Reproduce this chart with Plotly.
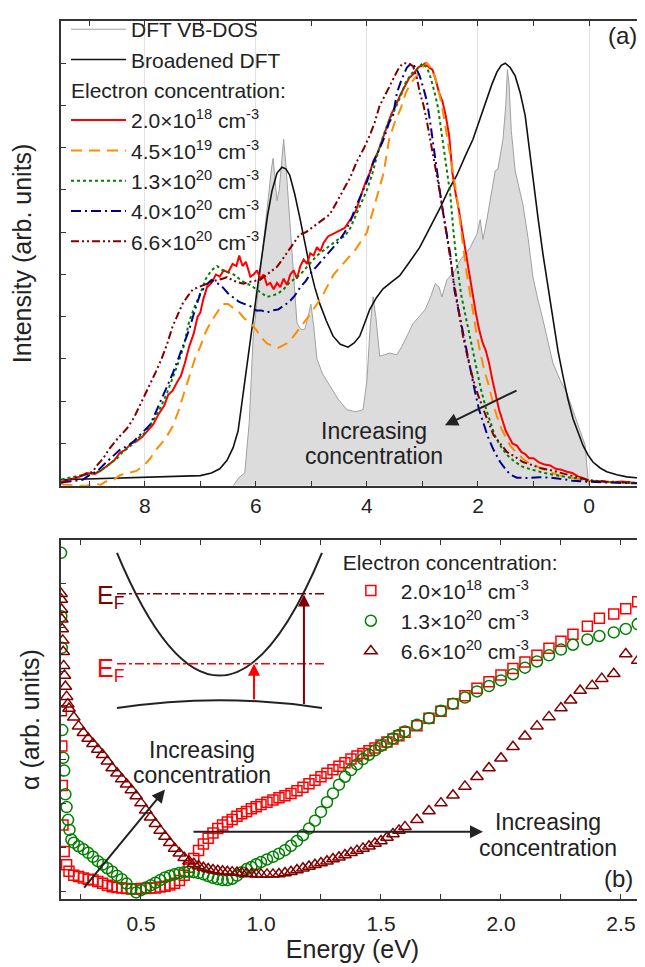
import plotly.graph_objects as go

FONT = "Liberation Sans, Arial, Helvetica, sans-serif"
TXT = "#222222"

# ================= panel (a): photoemission =================
dos_E = [6.41, 6.30, 6.20, 6.12, 6.05, 5.95, 5.87, 5.78, 5.72, 5.69, 5.65, 5.62, 5.58, 5.53, 5.50, 5.46,
         5.39, 5.32, 5.26, 5.19, 5.12, 5.06, 5.01, 4.96, 4.90, 4.80, 4.67, 4.52, 4.36, 4.20, 4.07, 4.00,
         3.94, 3.89, 3.84, 3.77, 3.68, 3.59, 3.46, 3.37, 3.28, 3.17, 3.06, 2.95, 2.86, 2.77, 2.70, 2.65,
         2.56, 2.48, 2.41, 2.32, 2.23, 2.14, 2.08, 2.02, 1.96, 1.91, 1.84, 1.78, 1.69, 1.64, 1.55, 1.50,
         1.47, 1.44, 1.40, 1.33, 1.19, 1.10, 1.01, 0.92, 0.83, 0.65, 0.52, 0.40, 0.22, 0.07, 0.02, 0.00]
dos_I = [0.0, 0.02, 0.03, 0.15, 0.35, 0.47, 0.58, 0.68, 0.75, 0.775, 0.72, 0.675, 0.70, 0.79, 0.82, 0.76,
         0.635, 0.49, 0.385, 0.37, 0.37, 0.40, 0.43, 0.38, 0.30, 0.265, 0.236, 0.205, 0.18, 0.175, 0.18, 0.25,
         0.38, 0.447, 0.40, 0.307, 0.31, 0.314, 0.31, 0.33, 0.354, 0.384, 0.40, 0.417, 0.445, 0.478, 0.47, 0.447,
         0.487, 0.50, 0.51, 0.534, 0.55, 0.564, 0.58, 0.595, 0.63, 0.583, 0.63, 0.674, 0.745, 0.75, 0.82, 0.90,
         0.985, 0.95, 0.84, 0.745, 0.665, 0.588, 0.494, 0.44, 0.393, 0.29, 0.25, 0.22, 0.15, 0.096, 0.02, 0.0]

brd_E = [9.51, 9.0, 8.5, 8.0, 7.5, 7.0, 6.8, 6.65, 6.52, 6.41, 6.32, 6.23, 6.14, 6.05, 5.96, 5.87, 5.79,
         5.71, 5.62, 5.53, 5.46, 5.39, 5.30, 5.21, 5.12, 5.03, 4.94, 4.85, 4.73, 4.61, 4.48, 4.34, 4.23,
         4.13, 4.04, 3.95, 3.83, 3.71, 3.56, 3.41, 3.23, 3.05, 2.87, 2.68, 2.53, 2.38, 2.23, 2.09, 1.96,
         1.84, 1.75, 1.66, 1.58, 1.51, 1.42, 1.33, 1.24, 1.15, 1.08, 1.01, 0.92, 0.83, 0.74, 0.65, 0.56,
         0.47, 0.38, 0.29, 0.20, 0.11, 0.02, -0.07, -0.20, -0.32, -0.50, -0.68, -0.85, -0.99]
brd_I = [0.014, 0.016, 0.018, 0.019, 0.021, 0.024, 0.03, 0.04, 0.06, 0.09, 0.13, 0.22, 0.30, 0.393, 0.48,
         0.564, 0.64, 0.698, 0.74, 0.754, 0.75, 0.735, 0.69, 0.635, 0.575, 0.518, 0.47, 0.431, 0.39, 0.354,
         0.335, 0.328, 0.338, 0.354, 0.385, 0.417, 0.445, 0.466, 0.482, 0.497, 0.53, 0.564, 0.61, 0.658,
         0.70, 0.735, 0.78, 0.82, 0.87, 0.916, 0.95, 0.979, 0.995, 1.0, 0.99, 0.97, 0.93, 0.876, 0.80, 0.72,
         0.635, 0.548, 0.47, 0.393, 0.32, 0.26, 0.205, 0.159, 0.125, 0.096, 0.073, 0.056, 0.042, 0.033,
         0.026, 0.021, 0.019, 0.018]

red_E = [9.52, 9.35, 9.2, 9.05, 8.9, 8.8, 8.65, 8.55, 8.45, 8.35, 8.25, 8.15, 8.05, 7.95, 7.85, 7.75, 7.65,
         7.58, 7.5, 7.42, 7.35, 7.28, 7.2, 7.12, 7.05, 7.0, 6.95, 6.88, 6.8, 6.72, 6.65, 6.58, 6.5, 6.42,
         6.35, 6.3, 6.24, 6.18, 6.1, 6.04, 5.98, 5.92, 5.86, 5.8, 5.74, 5.68, 5.62, 5.56, 5.5, 5.44, 5.38,
         5.32, 5.26, 5.2, 5.14, 5.08, 5.02, 4.96, 4.9, 4.84, 4.78, 4.7, 4.62, 4.55, 4.48, 4.4, 4.3, 4.2,
         4.1, 4.02, 3.95, 3.88, 3.8, 3.72, 3.64, 3.56, 3.48, 3.4, 3.32, 3.24, 3.16, 3.08, 3.0, 2.95, 2.88,
         2.82, 2.76, 2.7, 2.64, 2.58, 2.52, 2.46, 2.4, 2.34, 2.28, 2.22, 2.16, 2.1, 2.04, 1.98, 1.92, 1.86,
         1.8, 1.74, 1.68, 1.62, 1.56, 1.5, 1.44, 1.38, 1.3, 1.22, 1.15, 1.08, 1.0, 0.9, 0.8, 0.7, 0.6, 0.5,
         0.4, 0.3, 0.2, 0.1, 0.0, -0.2, -0.4, -0.6, -0.8, -1.0]
red_I = [0.005, 0.015, 0.02, 0.03, 0.028, 0.035, 0.05, 0.06, 0.078, 0.085, 0.1, 0.105, 0.115, 0.13, 0.145,
         0.17, 0.19, 0.215, 0.225, 0.245, 0.26, 0.29, 0.33, 0.36, 0.40, 0.41, 0.44, 0.47, 0.48, 0.50, 0.495,
         0.51, 0.505, 0.525, 0.52, 0.545, 0.52, 0.53, 0.495, 0.50, 0.51, 0.49, 0.50, 0.475, 0.48, 0.465,
         0.48, 0.47, 0.49, 0.475, 0.50, 0.51, 0.49, 0.52, 0.535, 0.525, 0.55, 0.545, 0.565, 0.555, 0.575,
         0.59, 0.595, 0.60, 0.605, 0.61, 0.63, 0.65, 0.69, 0.72, 0.74, 0.77, 0.79, 0.82, 0.855, 0.88, 0.90,
         0.925, 0.945, 0.965, 0.975, 0.99, 0.995, 1.0, 0.99, 0.985, 0.96, 0.93, 0.91, 0.875, 0.83, 0.74,
         0.69, 0.65, 0.60, 0.55, 0.50, 0.46, 0.41, 0.37, 0.34, 0.32, 0.29, 0.25, 0.215, 0.18, 0.155, 0.13,
         0.115, 0.10, 0.095, 0.08, 0.075, 0.065, 0.065, 0.055, 0.05, 0.048, 0.04, 0.038, 0.033, 0.03, 0.022,
         0.018, 0.012, 0.01, 0.008, 0.01, 0.007, 0.006]

org_E = [9.5, 9.3, 9.2, 9.05, 8.9, 8.8, 8.7, 8.55, 8.45, 8.3, 8.15, 8.0, 7.9, 7.8, 7.7, 7.6, 7.5, 7.4, 7.3,
         7.2, 7.1, 7.0, 6.9, 6.8, 6.7, 6.6, 6.5, 6.4, 6.3, 6.2, 6.1, 6.0, 5.9, 5.8, 5.7, 5.6, 5.4, 5.2,
         5.0, 4.8, 4.6, 4.4, 4.2, 4.0, 3.8, 3.7, 3.6, 3.5, 3.4, 3.3, 3.2, 3.1, 3.0, 2.92, 2.85, 2.78, 2.72,
         2.65, 2.58, 2.5, 2.44, 2.38, 2.3, 2.2, 2.1, 2.02, 1.95, 1.88, 1.8, 1.72, 1.66, 1.58, 1.5, 1.42,
         1.32, 1.2, 1.1, 1.0, 0.85, 0.7, 0.55, 0.4, 0.25, 0.1, -0.1, -0.3, -0.5, -0.7, -1.0]
org_I = [0.003, 0.0, 0.0, 0.0, 0.005, 0.002, 0.01, 0.015, 0.025, 0.03, 0.035, 0.05, 0.065, 0.085, 0.10,
         0.118, 0.14, 0.175, 0.215, 0.26, 0.30, 0.33, 0.365, 0.39, 0.41, 0.43, 0.43, 0.42, 0.41, 0.395,
         0.385, 0.37, 0.35, 0.337, 0.33, 0.326, 0.34, 0.375, 0.41, 0.45, 0.50, 0.53, 0.56, 0.60, 0.69,
         0.74, 0.82, 0.86, 0.89, 0.93, 0.955, 0.97, 0.99, 1.0, 0.99, 0.97, 0.94, 0.90, 0.845, 0.78, 0.73,
         0.685, 0.60, 0.50, 0.42, 0.355, 0.31, 0.27, 0.235, 0.19, 0.165, 0.135, 0.115, 0.095, 0.08, 0.065,
         0.055, 0.05, 0.04, 0.032, 0.025, 0.02, 0.018, 0.012, 0.01, 0.008, 0.009, 0.007, 0.006]

grn_E = [9.5, 9.3, 9.1, 8.95, 8.8, 8.65, 8.5, 8.4, 8.3, 8.2, 8.1, 8.0, 7.9, 7.8, 7.7, 7.6, 7.5, 7.4, 7.3,
         7.2, 7.1, 7.0, 6.9, 6.8, 6.7, 6.6, 6.5, 6.4, 6.3, 6.2, 6.1, 6.0, 5.9, 5.8, 5.7, 5.6, 5.5, 5.4,
         5.3, 5.2, 5.1, 5.0, 4.9, 4.8, 4.7, 4.6, 4.5, 4.4, 4.3, 4.2, 4.1, 4.0, 3.9, 3.8, 3.7, 3.6, 3.5,
         3.4, 3.3, 3.2, 3.1, 3.0, 2.92, 2.85, 2.78, 2.72, 2.65, 2.58, 2.5, 2.44, 2.38, 2.3, 2.2, 2.1, 2.02,
         1.95, 1.85, 1.78, 1.7, 1.6, 1.48, 1.35, 1.2, 1.0, 0.8, 0.6, 0.4, 0.2, 0.0, -0.3, -0.6, -1.0]
grn_I = [0.015, 0.02, 0.025, 0.03, 0.035, 0.05, 0.065, 0.08, 0.09, 0.10, 0.115, 0.125, 0.145, 0.165, 0.19,
         0.22, 0.255, 0.29, 0.33, 0.39, 0.425, 0.455, 0.49, 0.51, 0.52, 0.51, 0.505, 0.50, 0.49, 0.48,
         0.475, 0.465, 0.455, 0.447, 0.45, 0.455, 0.465, 0.48, 0.49, 0.50, 0.515, 0.53, 0.545, 0.555,
         0.565, 0.575, 0.585, 0.59, 0.61, 0.64, 0.67, 0.70, 0.74, 0.79, 0.83, 0.865, 0.89, 0.92, 0.955,
         0.975, 0.985, 1.0, 0.99, 0.965, 0.93, 0.895, 0.83, 0.76, 0.69, 0.60, 0.525, 0.45, 0.385, 0.32,
         0.27, 0.23, 0.18, 0.15, 0.12, 0.095, 0.073, 0.058, 0.045, 0.037, 0.03, 0.025, 0.021, 0.016, 0.012,
         0.009, 0.008, 0.006]

blu_E = [9.5, 9.3, 9.12, 9.0, 8.85, 8.7, 8.6, 8.45, 8.3, 8.2, 8.05, 7.9, 7.8, 7.7, 7.6, 7.5, 7.4, 7.3,
         7.2, 7.1, 7.0, 6.9, 6.8, 6.7, 6.6, 6.5, 6.4, 6.3, 6.2, 6.1, 6.0, 5.9, 5.8, 5.7, 5.6, 5.5, 5.4,
         5.3, 5.2, 5.1, 5.0, 4.9, 4.8, 4.7, 4.6, 4.5, 4.4, 4.3, 4.2, 4.1, 4.0, 3.9, 3.8, 3.7, 3.6, 3.53,
         3.46, 3.38, 3.28, 3.2, 3.12, 3.05, 2.98, 2.92, 2.86, 2.8, 2.74, 2.68, 2.62, 2.56, 2.5, 2.42, 2.32,
         2.22, 2.14, 2.05, 1.98, 1.91, 1.82, 1.72, 1.6, 1.48, 1.4, 1.3, 1.1, 0.9, 0.7, 0.5, 0.3, 0.1, -0.2,
         -0.5, -0.8, -1.0]
blu_I = [0.008, 0.012, 0.014, 0.025, 0.035, 0.055, 0.068, 0.085, 0.095, 0.105, 0.125, 0.145, 0.175, 0.205,
         0.235, 0.265, 0.30, 0.335, 0.37, 0.415, 0.455, 0.475, 0.487, 0.48, 0.47, 0.455, 0.445, 0.435,
         0.43, 0.425, 0.415, 0.415, 0.41, 0.415, 0.417, 0.425, 0.435, 0.45, 0.47, 0.485, 0.505, 0.52,
         0.535, 0.55, 0.565, 0.58, 0.60, 0.625, 0.66, 0.69, 0.72, 0.76, 0.79, 0.82, 0.86, 0.876, 0.93,
         0.96, 0.99, 1.0, 0.99, 0.97, 0.94, 0.91, 0.86, 0.80, 0.74, 0.69, 0.64, 0.59, 0.548, 0.46, 0.393,
         0.33, 0.276, 0.22, 0.18, 0.15, 0.115, 0.085, 0.056, 0.035, 0.025, 0.019, 0.018, 0.02, 0.019, 0.016,
         0.012, 0.01, 0.008, 0.007, 0.006, 0.005]

drd_E = [9.53, 9.4, 9.25, 9.1, 8.94, 8.85, 8.75, 8.63, 8.5, 8.4, 8.32, 8.2, 8.09, 8.0, 7.9, 7.8, 7.7,
         7.6, 7.5, 7.4, 7.32, 7.22, 7.14, 7.0, 6.88, 6.75, 6.6, 6.52, 6.4, 6.3, 6.23, 6.1, 6.0, 5.93, 5.8,
         5.7, 5.62, 5.5, 5.4, 5.3, 5.21, 5.1, 5.0, 4.9, 4.8, 4.67, 4.55, 4.43, 4.3, 4.18, 4.05, 3.95, 3.86,
         3.77, 3.68, 3.59, 3.5, 3.42, 3.35, 3.25, 3.17, 3.1, 3.05, 2.98, 2.92, 2.86, 2.81, 2.74, 2.68, 2.62,
         2.56, 2.5, 2.45, 2.36, 2.27, 2.18, 2.09, 2.0, 1.92, 1.84, 1.72, 1.6, 1.48, 1.35, 1.19, 1.05, 0.88,
         0.73, 0.58, 0.4, 0.16, 0.0, -0.3, -0.6, -1.0]
drd_I = [0.007, 0.012, 0.018, 0.025, 0.033, 0.05, 0.065, 0.089, 0.11, 0.125, 0.136, 0.16, 0.19, 0.215,
         0.24, 0.27, 0.30, 0.335, 0.377, 0.405, 0.431, 0.45, 0.464, 0.472, 0.478, 0.485, 0.49, 0.494,
         0.485, 0.48, 0.478, 0.483, 0.485, 0.487, 0.50, 0.51, 0.518, 0.54, 0.56, 0.58, 0.595, 0.60, 0.61,
         0.618, 0.63, 0.642, 0.67, 0.698, 0.73, 0.768, 0.80, 0.829, 0.86, 0.90, 0.925, 0.946, 0.97, 0.99,
         1.0, 1.0, 0.993, 0.965, 0.932, 0.90, 0.862, 0.82, 0.782, 0.735, 0.69, 0.64, 0.595, 0.54, 0.494,
         0.42, 0.354, 0.30, 0.253, 0.215, 0.185, 0.159, 0.12, 0.10, 0.08, 0.07, 0.056, 0.05, 0.042, 0.038,
         0.033, 0.026, 0.019, 0.013, 0.01, 0.008, 0.006]

# ================= panel (b): absorption =================
grid_B = [0.20, 0.22, 0.24, 0.26, 0.28, 0.30, 0.32, 0.34, 0.36, 0.38, 0.40, 0.42, 0.44, 0.46, 0.48, 0.50,
          0.52, 0.54, 0.56, 0.58, 0.60, 0.62, 0.64, 0.66, 0.68, 0.70, 0.72, 0.74, 0.76, 0.78, 0.80, 0.82,
          0.84, 0.86, 0.88, 0.90, 0.92, 0.94, 0.96, 0.98, 1.00]
grid_C = [1.025, 1.05, 1.075, 1.10, 1.125, 1.15, 1.175, 1.20, 1.225, 1.25, 1.275, 1.30, 1.325, 1.35,
          1.375, 1.40, 1.425, 1.45, 1.475, 1.50, 1.525, 1.55, 1.575, 1.60]

sq_E = ([0.168, 0.170, 0.172, 0.175, 0.180, 0.190] + grid_B + grid_C +
        [1.65, 1.70, 1.75, 1.80, 1.85, 1.90, 1.95, 2.00, 2.05, 2.10, 2.15, 2.20, 2.25, 2.30, 2.36, 2.41,
         2.47, 2.52, 2.57])
sq_A = ([4.1, 3.3, 2.4, 1.5, 0.9, 0.6] +
        [0.45, 0.36, 0.33, 0.30, 0.27, 0.25, 0.22, 0.18, 0.13, 0.10, 0.08, 0.07, 0.06, 0.05, 0.05, 0.06,
         0.06, 0.07, 0.07, 0.09, 0.11, 0.14, 0.18, 0.24, 0.36, 0.54, 0.74, 0.92, 1.07, 1.2, 1.32, 1.42,
         1.5, 1.57, 1.63, 1.7, 1.76, 1.81, 1.87, 1.92, 1.97] +
        [2.02, 2.07, 2.12, 2.17, 2.22, 2.28, 2.36, 2.44, 2.52, 2.6, 2.68, 2.76, 2.84, 2.92, 3.0, 3.07,
         3.13, 3.19, 3.25, 3.32, 3.39, 3.46, 3.53, 3.61] +
        [3.76, 3.93, 4.09, 4.26, 4.44, 4.61, 4.76, 4.91, 5.06, 5.21, 5.36, 5.52, 5.68, 5.84, 6.02, 6.2,
         6.3, 6.42, 6.58])

ci_E = ([0.167, 0.168, 0.170, 0.172, 0.176, 0.180, 0.185, 0.190, 0.196, 0.202, 0.210] + grid_B[1:] + grid_C +
        [1.65, 1.70, 1.75, 1.80, 1.85, 1.90, 1.95, 2.00, 2.05, 2.10, 2.15, 2.20, 2.25, 2.30, 2.36, 2.41,
         2.47, 2.52, 2.57])
ci_A = ([7.69, 6.25, 5.53, 3.66, 3.03, 2.74, 2.2, 1.91, 1.62, 1.39, 1.17] +
        [1.1, 1.02, 0.95, 0.87, 0.78, 0.68, 0.6, 0.52, 0.44, 0.35, 0.27, 0.17, 0.05, -0.03, 0.02, 0.08,
         0.13, 0.19, 0.25, 0.31, 0.35, 0.38, 0.41, 0.43, 0.44, 0.43, 0.41, 0.38, 0.34, 0.3, 0.27, 0.25,
         0.25, 0.28, 0.35, 0.43, 0.5, 0.55, 0.61, 0.66] +
        [0.72, 0.78, 0.85, 0.93, 1.03, 1.14, 1.27, 1.42, 1.6, 1.8, 2.02, 2.22, 2.42, 2.6, 2.75, 2.88,
         3.0, 3.1, 3.2, 3.3, 3.38, 3.47, 3.55, 3.63] +
        [3.78, 3.93, 4.1, 4.26, 4.4, 4.54, 4.66, 4.79, 4.93, 5.08, 5.22, 5.36, 5.49, 5.6, 5.72, 5.8,
         5.88, 5.96, 6.07])

tr_E = ([0.167, 0.168, 0.169, 0.170, 0.172, 0.174, 0.176, 0.178, 0.181, 0.185, 0.190, 0.195] + grid_B +
        grid_C +
        [1.65, 1.70, 1.75, 1.80, 1.85, 1.90, 1.95, 2.00, 2.05, 2.10, 2.15, 2.20, 2.25, 2.29, 2.33, 2.38,
         2.42, 2.47, 2.52, 2.57])
tr_A = ([6.76, 6.63, 6.4, 6.18, 5.96, 5.7, 5.44, 5.12, 4.9, 4.65, 4.42, 4.25] +
        [4.15, 3.95, 3.75, 3.6, 3.47, 3.35, 3.22, 3.1, 2.95, 2.8, 2.68, 2.55, 2.43, 2.3, 2.16, 2.0, 1.84,
         1.68, 1.53, 1.38, 1.24, 1.1, 0.97, 0.86, 0.76, 0.68, 0.62, 0.57, 0.53, 0.5, 0.48, 0.46, 0.45,
         0.44, 0.43, 0.42, 0.41, 0.40, 0.39, 0.38, 0.38] +
        [0.38, 0.38, 0.39, 0.41, 0.44, 0.48, 0.52, 0.56, 0.6, 0.64, 0.68, 0.73, 0.77, 0.82, 0.87, 0.92,
         0.97, 1.02, 1.08, 1.14, 1.22, 1.3, 1.38, 1.46] +
        [1.62, 1.82, 2.0, 2.18, 2.38, 2.6, 2.8, 3.02, 3.28, 3.52, 3.75, 3.96, 4.16, 4.34, 4.56, 4.67,
         4.83, 4.94, 5.39, 5.24])

conc_a = ["2.0×10<sup>18</sup> cm<sup>-3</sup>", "4.5×10<sup>19</sup> cm<sup>-3</sup>",
          "1.3×10<sup>20</sup> cm<sup>-3</sup>", "4.0×10<sup>20</sup> cm<sup>-3</sup>",
          "6.6×10<sup>20</sup> cm<sup>-3</sup>"]
conc_b = ["2.0×10<sup>18</sup> cm<sup>-3</sup>", "1.3×10<sup>20</sup> cm<sup>-3</sup>",
          "6.6×10<sup>20</sup> cm<sup>-3</sup>"]

RED, ORG, GRN, BLU, DRD = "#ff0000", "#ff8c00", "#008000", "#00008b", "#800000"

fig = go.Figure()

fig.add_trace(go.Scatter(x=dos_E, y=dos_I, mode="lines", fill="tozeroy", fillcolor="#dcdcdc",
                         line=dict(width=0, color="#dcdcdc"), showlegend=False, hoverinfo="skip",
                         xaxis="x", yaxis="y"))
fig.add_trace(go.Scatter(x=dos_E, y=dos_I, mode="lines", name="DFT VB-DOS",
                         line=dict(color="#a0a0a0", width=1), legendgroup="dft", legend="legend",
                         xaxis="x", yaxis="y"))
fig.add_trace(go.Scatter(x=brd_E, y=brd_I, mode="lines", name="Broadened DFT",
                         line=dict(color="#111111", width=1.6), legendgroup="dft", legend="legend",
                         xaxis="x", yaxis="y"))

exp_series = [(red_E, red_I, RED, "solid"), (org_E, org_I, ORG, "11px,7px"),
              (grn_E, grn_I, GRN, "3px,3px"), (blu_E, blu_I, BLU, "10px,4px,2px,4px"),
              (drd_E, drd_I, DRD, "8px,3px,2px,3px,2px,3px")]
for i, (ex, ey, col, dash) in enumerate(exp_series):
    fig.add_trace(go.Scatter(x=ex, y=ey, mode="lines", name=conc_a[i],
                             line=dict(color=col, width=2, dash=dash),
                             legendgroup="exp",
                             legendgrouptitle=dict(text="Electron concentration:",
                                                   font=dict(size=21, color=TXT, family=FONT)),
                             legend="legend", xaxis="x", yaxis="y"))

mk = [(sq_E, sq_A, RED, "square-open", 10), (ci_E, ci_A, GRN, "circle-open", 11),
      (tr_E, tr_A, DRD, "triangle-up-open", 11)]
for i, (bx, by, col, sym, sz) in enumerate(mk):
    fig.add_trace(go.Scatter(x=bx, y=by, mode="markers", name=conc_b[i],
                             marker=dict(symbol=sym, size=sz, color=col, line=dict(color=col, width=1.5)),
                             legend="legend2", xaxis="x2", yaxis="y2"))

axis_common = dict(showline=True, linecolor="#333333", linewidth=1.5, mirror="ticks", ticks="inside",
                   ticklen=5, tickwidth=1, tickcolor="#333333", zeroline=False, automargin=False,
                   tickfont=dict(size=21, color=TXT, family=FONT))

# the page adds an 8px body margin, so the figure is sized to fit the 645x967 window
fig.update_layout(
    width=637, height=959,
    margin=dict(l=53, r=1, t=3, b=68),
    paper_bgcolor="white", plot_bgcolor="white",
    font=dict(family=FONT, color=TXT, size=21),
    xaxis=dict(domain=[0, 1], anchor="y", range=[9.51, -0.99], dtick=2, tick0=0,
               showgrid=True, gridcolor="#e2e2e2", gridwidth=1,
               minor=dict(dtick=1, ticks="inside", ticklen=5, tickcolor="#333333", showgrid=False),
               **axis_common),
    yaxis=dict(domain=[0.4707, 1], anchor="x", range=[0, 1.1], dtick=0.1, tick0=0,
               showgrid=False, showticklabels=False,
               title=dict(text="Intensity (arb. units)", font=dict(size=25, color=TXT, family=FONT),
                          standoff=22),
               **axis_common),
    xaxis2=dict(domain=[0, 1], anchor="y2", range=[0.1667, 2.596], dtick=0.5, tick0=0,
                tickformat=".1f", showgrid=False, ticklabelstandoff=5,
                minor=dict(dtick=0.25, ticks="inside", ticklen=5, tickcolor="#333333", showgrid=False),
                title=dict(text="Energy (eV)", font=dict(size=25, color=TXT, family=FONT), standoff=6),
                **axis_common),
    yaxis2=dict(domain=[0, 0.4088], anchor="x2", range=[-0.18, 7.98], dtick=1, tick0=0,
                showgrid=False, showticklabels=False,
                title=dict(text="α (arb. units)", font=dict(size=25, color=TXT, family=FONT), standoff=12),
                **axis_common),
    legend=dict(x=0.0086, y=1.0136, xanchor="left", yanchor="top", bgcolor="rgba(0,0,0,0)",
                itemwidth=55, tracegroupgap=0, font=dict(size=21, color=TXT, family=FONT),
                traceorder="grouped"),
    legend2=dict(x=0.480, y=0.4055, xanchor="left", yanchor="top", bgcolor="rgba(0,0,0,0)",
                 itemwidth=50, font=dict(size=21, color=TXT, family=FONT),
                 title=dict(text="Electron concentration:", font=dict(size=21, color=TXT, family=FONT))),
)

# ---- inset schematic in panel (b) ----
fig.add_shape(type="path", xref="x2", yref="y2", path="M0.40,7.69 Q0.827,2.11 1.254,7.69",
              line=dict(color="#222222", width=2))
fig.add_shape(type="path", xref="x2", yref="y2", path="M0.40,4.16 Q0.827,4.52 1.254,4.16",
              line=dict(color="#222222", width=2))
fig.add_shape(type="line", xref="x2", yref="y2", x0=0.40, x1=1.275, y0=6.76, y1=6.76,
              line=dict(color=DRD, width=1.5, dash="dashdot"))
fig.add_shape(type="line", xref="x2", yref="y2", x0=0.40, x1=1.275, y0=5.17, y1=5.17,
              line=dict(color=RED, width=1.5, dash="dashdot"))

annos = []
annos.append(dict(x=0.971, y=5.17, ax=0.971, ay=4.32, xref="x2", yref="y2", axref="x2", ayref="y2",
                  showarrow=True, arrowhead=2, arrowsize=1.2, arrowwidth=2, arrowcolor=RED, text=""))
annos.append(dict(x=1.179, y=6.74, ax=1.179, ay=4.22, xref="x2", yref="y2", axref="x2", ayref="y2",
                  showarrow=True, arrowhead=2, arrowsize=1.2, arrowwidth=2, arrowcolor=DRD, text=""))
annos.append(dict(x=0.371, y=6.68, xref="x2", yref="y2", text="E<sub>F</sub>", showarrow=False,
                  xanchor="center", yanchor="middle", font=dict(size=25, color=DRD, family=FONT)))
annos.append(dict(x=0.371, y=5.03, xref="x2", yref="y2", text="E<sub>F</sub>", showarrow=False,
                  xanchor="center", yanchor="middle", font=dict(size=25, color=RED, family=FONT)))

annos.append(dict(x=2.595, y=0.143, ax=1.279, ay=0.227, xref="x", yref="y", axref="x", ayref="y",
                  showarrow=True, arrowhead=2, arrowsize=1.3, arrowwidth=2, arrowcolor="#222222", text=""))
annos.append(dict(x=3.874, y=0.13, xref="x", yref="y", text="Increasing", showarrow=False,
                  xanchor="center", yanchor="middle", font=dict(size=23, color=TXT, family=FONT)))
annos.append(dict(x=3.874, y=0.07, xref="x", yref="y", text="concentration", showarrow=False,
                  xanchor="center", yanchor="middle", font=dict(size=23, color=TXT, family=FONT)))
annos.append(dict(x=0.60, y=2.31, ax=0.258, ay=0.045, xref="x2", yref="y2", axref="x2", ayref="y2",
                  showarrow=True, arrowhead=2, arrowsize=1.3, arrowwidth=2, arrowcolor="#222222", text=""))
annos.append(dict(x=0.754, y=3.21, xref="x2", yref="y2", text="Increasing", showarrow=False,
                  xanchor="center", yanchor="middle", font=dict(size=23, color=TXT, family=FONT)))
annos.append(dict(x=0.754, y=2.63, xref="x2", yref="y2", text="concentration", showarrow=False,
                  xanchor="center", yanchor="middle", font=dict(size=23, color=TXT, family=FONT)))
annos.append(dict(x=1.925, y=1.35, ax=0.7125, ay=1.35, xref="x2", yref="y2", axref="x2", ayref="y2",
                  showarrow=True, arrowhead=2, arrowsize=1.3, arrowwidth=2, arrowcolor="#222222", text=""))
annos.append(dict(x=2.196, y=1.57, xref="x2", yref="y2", text="Increasing", showarrow=False,
                  xanchor="center", yanchor="middle", font=dict(size=23, color=TXT, family=FONT)))
annos.append(dict(x=2.196, y=0.97, xref="x2", yref="y2", text="concentration", showarrow=False,
                  xanchor="center", yanchor="middle", font=dict(size=23, color=TXT, family=FONT)))

annos.append(dict(x=0.9623, y=0.983, xref="paper", yref="paper", text="(a)", showarrow=False,
                  xanchor="center", yanchor="middle", font=dict(size=24, color=TXT, family=FONT)))
annos.append(dict(x=0.957, y=0.0236, xref="paper", yref="paper", text="(b)", showarrow=False,
                  xanchor="center", yanchor="middle", font=dict(size=24, color=TXT, family=FONT)))
fig.update_layout(annotations=annos)

fig.write_html("out.html")
